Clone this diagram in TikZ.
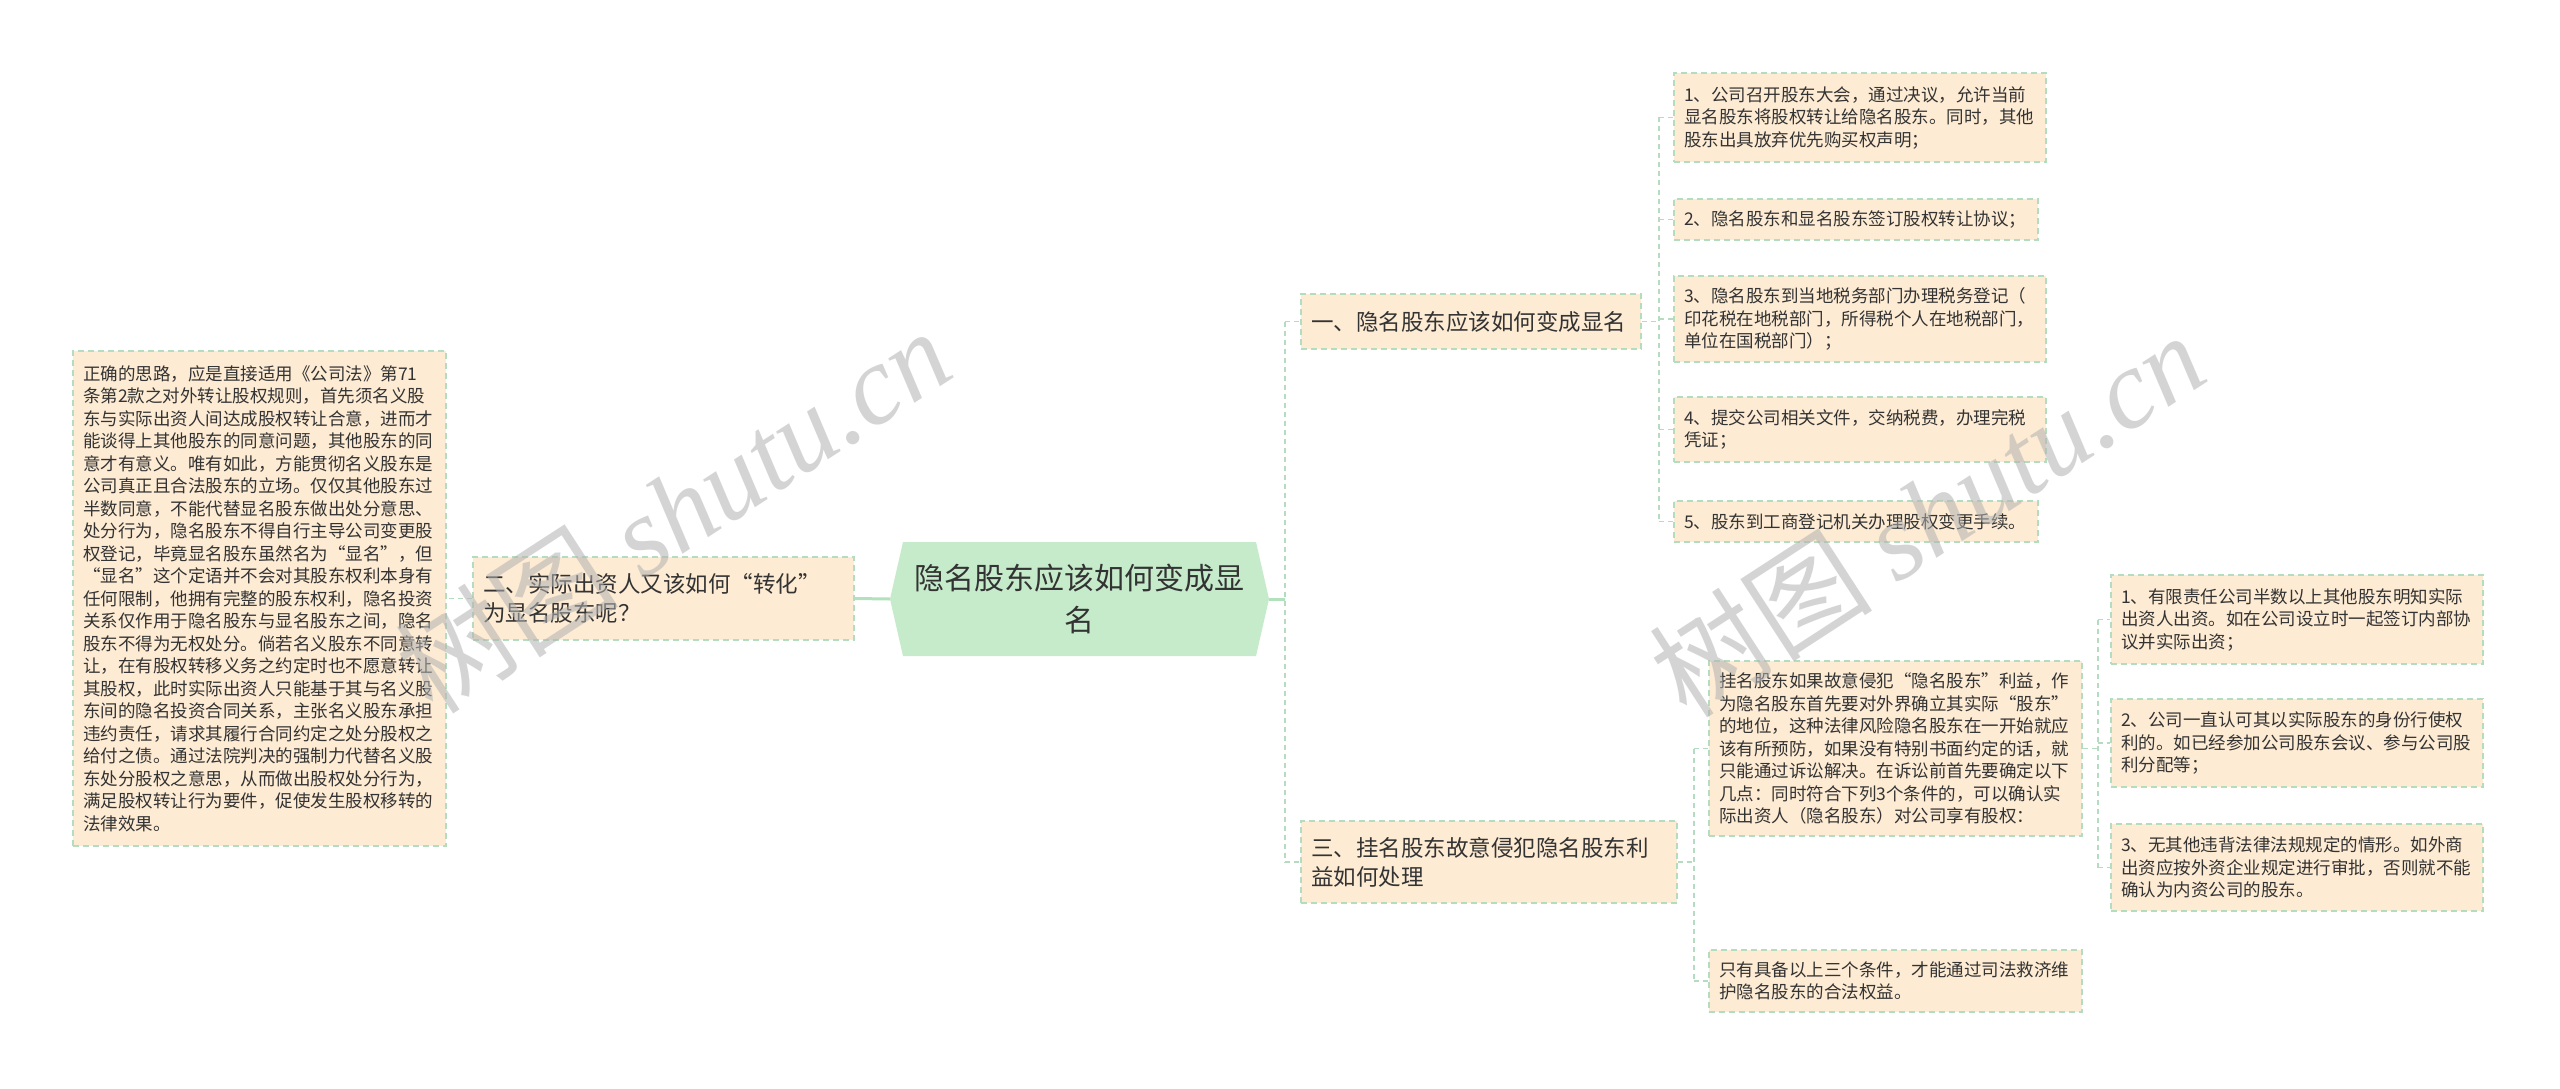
\documentclass[tikz,border=0pt]{standalone}
\usepackage{fontspec}
\setmainfont{Noto Sans CJK SC}
\newfontfamily\wmfont{Liberation Serif}
\usetikzlibrary{calc}
\definecolor{boxfill}{HTML}{FDEBD3}
\definecolor{boxline}{HTML}{B3DDBE}
\definecolor{cfill}{HTML}{C6EBCB}
\definecolor{txt}{HTML}{333333}
\definecolor{conn}{HTML}{B5DCC0}
\definecolor{connS}{HTML}{B3E0BD}
\newcommand\fsItem{\fontsize{17.5pt}{22.5pt}\selectfont}
\newcommand\fsBranch{\fontsize{22.5pt}{29pt}\selectfont}
\newcommand\fsCenter{\fontsize{30pt}{42pt}\selectfont}
\tikzset{
  box/.style={draw=boxline, dash pattern=on 6pt off 4pt, line width=1.5pt, fill=boxfill,
    inner xsep=10pt, inner ysep=0pt, align=left, text=txt, font=\fsItem},
  branch/.style={box, font=\fsBranch},
  cd/.style={draw=conn, dash pattern=on 5pt off 4pt, line width=1.5pt},
  cs/.style={draw=connS, line width=3pt},
  wm/.style={text=black!30, opacity=0.55, rotate=33, font=\fontsize{112pt}{112pt}\selectfont}
}
\begin{document}
\begin{tikzpicture}[x=1pt,y=-1pt]
\useasboundingbox (0,0) rectangle (2560,1089);
\fill[white] (0,0) rectangle (2560,1089);

% center node
\coordinate (c0) at (1079.5,599);
\fill[cfill] ($(c0)+(-176.5,-57)$) -- ($(c0)+(176.5,-57)$) -- ($(c0)+(189.5,0)$)
  -- ($(c0)+(176.5,57)$) -- ($(c0)+(-176.5,57)$) -- ($(c0)+(-189.5,0)$) -- cycle;
\node[minimum width=379pt, minimum height=114pt, text width=340pt, align=center,
  inner sep=0pt, text=txt, font=\fsCenter] (C) at (c0) {隐名股东应该如何变成显\\名};

% left side
\node[box, minimum width=373pt, minimum height=495pt, text width=353pt] (L) at (259.5,598.5) {正确的思路，应是直接适用《公司法》第71\\条第2款之对外转让股权规则，首先须名义股\\东与实际出资人间达成股权转让合意，进而才\\能谈得上其他股东的同意问题，其他股东的同\\意才有意义。唯有如此，方能贯彻名义股东是\\公司真正且合法股东的立场。仅仅其他股东过\\半数同意，不能代替显名股东做出处分意思、\\处分行为，隐名股东不得自行主导公司变更股\\权登记，毕竟显名股东虽然名为“显名”，但\\“显名”这个定语并不会对其股东权利本身有\\任何限制，他拥有完整的股东权利，隐名投资\\关系仅作用于隐名股东与显名股东之间，隐名\\股东不得为无权处分。倘若名义股东不同意转\\让，在有股权转移义务之约定时也不愿意转让\\其股权，此时实际出资人只能基于其与名义股\\东间的隐名投资合同关系，主张名义股东承担\\违约责任，请求其履行合同约定之处分股权之\\给付之债。通过法院判决的强制力代替名义股\\东处分股权之意思，从而做出股权处分行为，\\满足股权转让行为要件，促使发生股权移转的\\法律效果。};
\node[branch, minimum width=381pt, minimum height=83pt, text width=361pt] (N2) at (663.5,598.5) {二、实际出资人又该如何“转化”\\为显名股东呢？};

% right branches
\node[branch, minimum width=340pt, minimum height=55pt, text width=320pt] (N1) at (1471,321.5) {一、隐名股东应该如何变成显名};
\node[branch, minimum width=376pt, minimum height=82pt, text width=356pt] (N3) at (1489,862) {三、挂名股东故意侵犯隐名股东利\\益如何处理};

% items of branch 1
\node[box, minimum width=372pt, minimum height=89pt, text width=352pt] (I1) at (1860,117.5) {1、公司召开股东大会，通过决议，允许当前\\显名股东将股权转让给隐名股东。同时，其他\\股东出具放弃优先购买权声明；};
\node[box, minimum width=364pt, minimum height=41pt, text width=344pt] (I2) at (1856,219.5) {2、隐名股东和显名股东签订股权转让协议；};
\node[box, minimum width=372pt, minimum height=86pt, text width=352pt] (I3) at (1860,319) {3、隐名股东到当地税务部门办理税务登记（\\印花税在地税部门，所得税个人在地税部门，\\单位在国税部门）；};
\node[box, minimum width=372pt, minimum height=65pt, text width=352pt] (I4) at (1860,429.5) {4、提交公司相关文件，交纳税费，办理完税\\凭证；};
\node[box, minimum width=364pt, minimum height=41pt, text width=344pt] (I5) at (1856,521.5) {5、股东到工商登记机关办理股权变更手续。};

% branch 3 children
\node[box, minimum width=373pt, minimum height=175pt, text width=353pt] (P) at (1895.5,748.5) {挂名股东如果故意侵犯“隐名股东”利益，作\\为隐名股东首先要对外界确立其实际“股东”\\的地位，这种法律风险隐名股东在一开始就应\\该有所预防，如果没有特别书面约定的话，就\\只能通过诉讼解决。在诉讼前首先要确定以下\\几点：同时符合下列3个条件的，可以确认实\\际出资人（隐名股东）对公司享有股权：};
\node[box, minimum width=373pt, minimum height=62pt, text width=353pt] (Q) at (1895.5,981) {只有具备以上三个条件，才能通过司法救济维\\护隐名股东的合法权益。};
\node[box, minimum width=372pt, minimum height=89pt, text width=352pt] (S1) at (2297,619.5) {1、有限责任公司半数以上其他股东明知实际\\出资人出资。如在公司设立时一起签订内部协\\议并实际出资；};
\node[box, minimum width=372pt, minimum height=88pt, text width=352pt] (S2) at (2297,743) {2、公司一直认可其以实际股东的身份行使权\\利的。如已经参加公司股东会议、参与公司股\\利分配等；};
\node[box, minimum width=372pt, minimum height=87pt, text width=352pt] (S3) at (2297,867.5) {3、无其他违背法律法规规定的情形。如外商\\出资应按外资企业规定进行审批，否则就不能\\确认为内资公司的股东。};

% connectors
\draw[cs] (C.west) -- (N2.east);
\draw[cd] (N2.west) -- (L.east);
\draw[cs] (C.east) -- ++(16,0) coordinate (j0);
\draw[cd] (j0 |- N1.west) -- (j0 |- N3.west);
\draw[cd] (j0 |- N1.west) -- (N1.west);
\draw[cd] (j0 |- N3.west) -- (N3.west);

\draw[cd] (N1.east) -- ++(17,0) coordinate (j1);
\draw[cd] (j1 |- I1.west) -- (j1 |- I5.west);
\foreach \n in {I1,I2,I3,I4,I5} \draw[cd] (j1 |- \n.west) -- (\n.west);

\draw[cd] (N3.east) -- ++(16,0) coordinate (j3);
\draw[cd] (j3 |- P.west) -- (j3 |- Q.west);
\foreach \n in {P,Q} \draw[cd] (j3 |- \n.west) -- (\n.west);

\draw[cd] (P.east) -- ++(15,0) coordinate (j4);
\draw[cd] (j4 |- S1.west) -- (j4 |- S3.west);
\foreach \n in {S1,S2,S3} \draw[cd] (j4 |- \n.west) -- (\n.west);

% watermarks
\node[wm] (wm1) at (673,510) {树图 {\wmfont\itshape shutu.cn}};
\node[wm] (wm2) at (1927,514) {树图 {\wmfont\itshape shutu.cn}};
\end{tikzpicture}
\end{document}
